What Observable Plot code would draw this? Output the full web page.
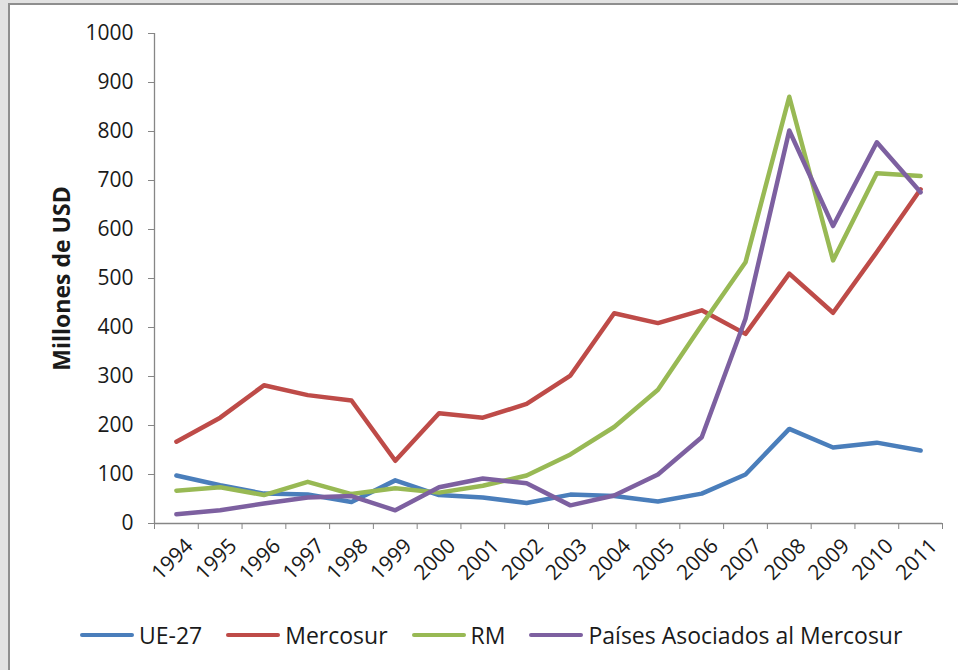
<!DOCTYPE html>
<html>
<head>
<meta charset="utf-8">
<script src="https://cdn.jsdelivr.net/npm/d3@7"></script>
<script src="https://cdn.jsdelivr.net/npm/@observablehq/plot@0.6"></script>
<style>
  html, body { margin: 0; padding: 0; }
  body { width: 958px; height: 670px; background: #e2e2e2; position: relative; overflow: hidden; font-family: "Open Sans", sans-serif; }
  #panel { position: absolute; left: 8px; top: 3px; width: 970px; height: 690px; background: #fff;
           border-left: 2px solid #8e8e8e; border-top: 2px solid #8e8e8e; }
  #chart { position: absolute; left: 0; top: 0; }
  #legend { position: absolute; left: 80px; top: 619px; display: flex; align-items: center; font-size: 23px; color: #1a1a1a; white-space: nowrap; }
  #legend .item { display: flex; align-items: center; margin-right: 24px; }
  #legend .sw { width: 54px; height: 4.5px; border-radius: 3px; margin-right: 5px; }
</style>
</head>
<body>
<div id="panel"></div>
<div id="chart"></div>
<div id="legend"></div>
<script>
const years = [1994, 1995, 1996, 1997, 1998, 1999, 2000, 2001, 2002, 2003, 2004, 2005, 2006, 2007, 2008, 2009, 2010, 2011];
const ue27 = [98, 78, 61, 59, 44, 88, 58, 53, 42, 59, 56, 45, 61, 100, 193, 155, 165, 149];
const mercosur = [167, 216, 282, 262, 251, 128, 225, 216, 244, 302, 429, 409, 435, 387, 510, 430, 554, 682];
const rm = [67, 74, 58, 85, 60, 72, 63, 77, 98, 141, 197, 273, 405, 533, 871, 537, 715, 709];
const asociados = [19, 27, 41, 53, 56, 27, 74, 92, 82, 37, 57, 100, 176, 418, 802, 607, 778, 676];
const seriesNames = ["UE-27", "Mercosur", "RM", "Países Asociados al Mercosur"];
const seriesColors = ["#4a7ebb", "#be4b48", "#98b954", "#7d60a0"];
const yTicks = [0, 100, 200, 300, 400, 500, 600, 700, 800, 900, 1000];
const yLabel = "Millones de USD";

const seriesValues = [ue27, mercosur, rm, asociados];
const rows = [];
seriesNames.forEach((name, i) => {
  years.forEach((yr, j) => rows.push({series: name, year: yr, value: seriesValues[i][j]}));
});
const xDomain = [years[0] - 0.5, years[years.length - 1] + 0.5];
const boundaries = [...years.map(y => y - 0.5), years[years.length - 1] + 0.5];
const axisColor = "#868686";
const textColor = "#1a1a1a";

const chart = Plot.plot({
  width: 958,
  height: 600,
  marginLeft: 154,
  marginRight: 16,
  marginTop: 33,
  marginBottom: 77,
  style: {background: "transparent", fontFamily: "Open Sans, sans-serif", color: textColor},
  x: {type: "linear", domain: xDomain},
  y: {domain: [yTicks[0], yTicks[yTicks.length - 1]]},
  color: {domain: seriesNames, range: seriesColors},
  marks: [
    Plot.axisY({ticks: yTicks, tickSize: 6, tickPadding: 15, fontSize: 21, stroke: axisColor, fill: textColor, label: null, tickFormat: "d"}),
    Plot.ruleX([xDomain[0]], {stroke: axisColor, strokeWidth: 1.3}),
    Plot.ruleY([yTicks[0]], {stroke: axisColor, strokeWidth: 1.3}),
    Plot.axisX({ticks: boundaries, tickSize: 6, tickFormat: () => "", stroke: axisColor, label: null}),
    Plot.text(years, {x: d => d, text: d => String(d), frameAnchor: "bottom", rotate: -45, textAnchor: "end", lineAnchor: "middle", dx: 13, dy: 19, fontSize: 21, fill: textColor}),
    Plot.text([yLabel], {frameAnchor: "left", rotate: -90, textAnchor: "middle", lineAnchor: "middle", dx: -92, fontSize: 23, fontWeight: "bold", fill: textColor}),
    Plot.line(rows, {x: "year", y: "value", z: "series", stroke: "series", strokeWidth: 4.5, strokeLinejoin: "round", strokeLinecap: "round"})
  ]
});
document.getElementById("chart").append(chart);

const legend = document.getElementById("legend");
seriesNames.forEach((name, i) => {
  const item = document.createElement("div");
  item.className = "item";
  const sw = document.createElement("span");
  sw.className = "sw";
  sw.style.background = seriesColors[i];
  const label = document.createElement("span");
  label.textContent = name;
  item.append(sw, label);
  legend.append(item);
});
</script>
</body>
</html>
